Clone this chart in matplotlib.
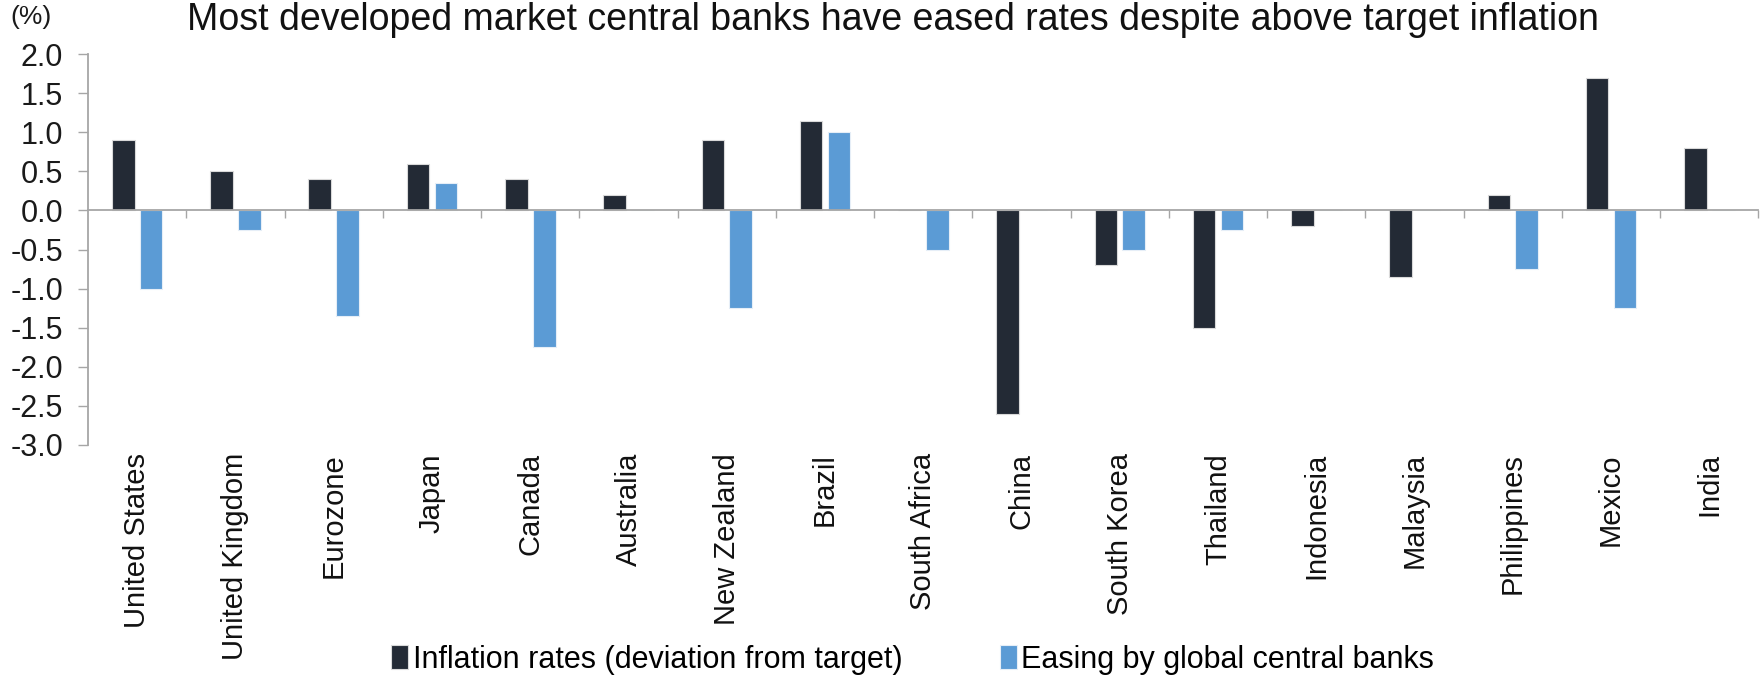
import numpy as np
import matplotlib
matplotlib.use("Agg")
from matplotlib import pyplot as plt

plt.rcParams['font.family'] = ['Liberation Sans', 'DejaVu Sans']

countries = ["United States", "United Kingdom", "Eurozone", "Japan", "Canada",
             "Australia", "New Zealand", "Brazil", "South Africa", "China",
             "South Korea", "Thailand", "Indonesia", "Malaysia", "Philippines",
             "Mexico", "India"]
inflation_gap = [0.9, 0.5, 0.4, 0.6, 0.4, 0.2, 0.9, 1.15, 0.0, -2.6,
                 -0.7, -1.5, -0.2, -0.85, 0.2, 1.7, 0.8]
easing = [-1.0, -0.25, -1.35, 0.35, -1.75, 0.0, -1.25, 1.0, -0.5, 0.0,
          -0.5, -0.25, 0.0, 0.0, -0.75, -1.25, 0.0]
yticks = np.arange(-3.0, 2.01, 0.5)

dark = "#232a35"
blue = "#5b9bd5"
grey = "#a6a6a6"

fig = plt.figure(figsize=(17.62, 6.78), dpi=100)
ax = fig.add_axes([0.05, 0.344, 0.948, 0.576])

x = np.arange(len(countries)) + 0.5
w = 0.23
ax.bar(x - 0.142, inflation_gap, w, color=dark, edgecolor="#d9d9d9", linewidth=0.8,
       label="Inflation rates (deviation from target)")
ax.bar(x + 0.142, easing, w, color=blue, edgecolor="#e6eef7", linewidth=0.8,
       label="Easing by global central banks")

ax.set_xlim(0, len(countries))
ax.set_ylim(-3.0, 2.0)
ax.set_yticks(yticks)
ax.set_yticklabels([f"{v:.1f}" for v in yticks])
ax.tick_params(axis="y", direction="out", length=7, width=1, color=grey,
               pad=11, labelsize=22, labelcolor="#1a1a1a")

# zero line carries the category boundary ticks
ax.spines["bottom"].set_position(("data", 0))
ax.spines["bottom"].set_color(grey)
ax.spines["bottom"].set_linewidth(1.3)
ax.spines["left"].set_color(grey)
ax.spines["left"].set_linewidth(1.3)
ax.spines["top"].set_visible(False)
ax.spines["right"].set_visible(False)
ax.set_xticks(np.arange(1, len(countries) + 1))
ax.tick_params(axis="x", direction="out", length=6, width=1, color=grey,
               labelbottom=False)

# country names sit below the plot area
sec = ax.secondary_xaxis(0)
sec.set_xticks(x)
sec.set_xticklabels(countries, rotation=90, va="top", ha="center")
sec.tick_params(length=0, pad=6, labelsize=21, labelcolor="#111111")
sec.spines["bottom"].set_visible(False)

fig.text(0.507, 0.970, "Most developed market central banks have eased rates despite above target inflation",
         ha="center", va="center", fontsize=27, color="#111111")
fig.text(0.006, 0.975, "(%)", ha="left", va="center", fontsize=19, color="#1a1a1a")

fig.legend(loc="center", bbox_to_anchor=(0.518, 0.027), ncol=2, frameon=False,
           fontsize=22, handlelength=0.55, handleheight=0.8, handletextpad=0.15,
           columnspacing=3.2, borderaxespad=0)

fig.savefig("out.png", dpi=100)
